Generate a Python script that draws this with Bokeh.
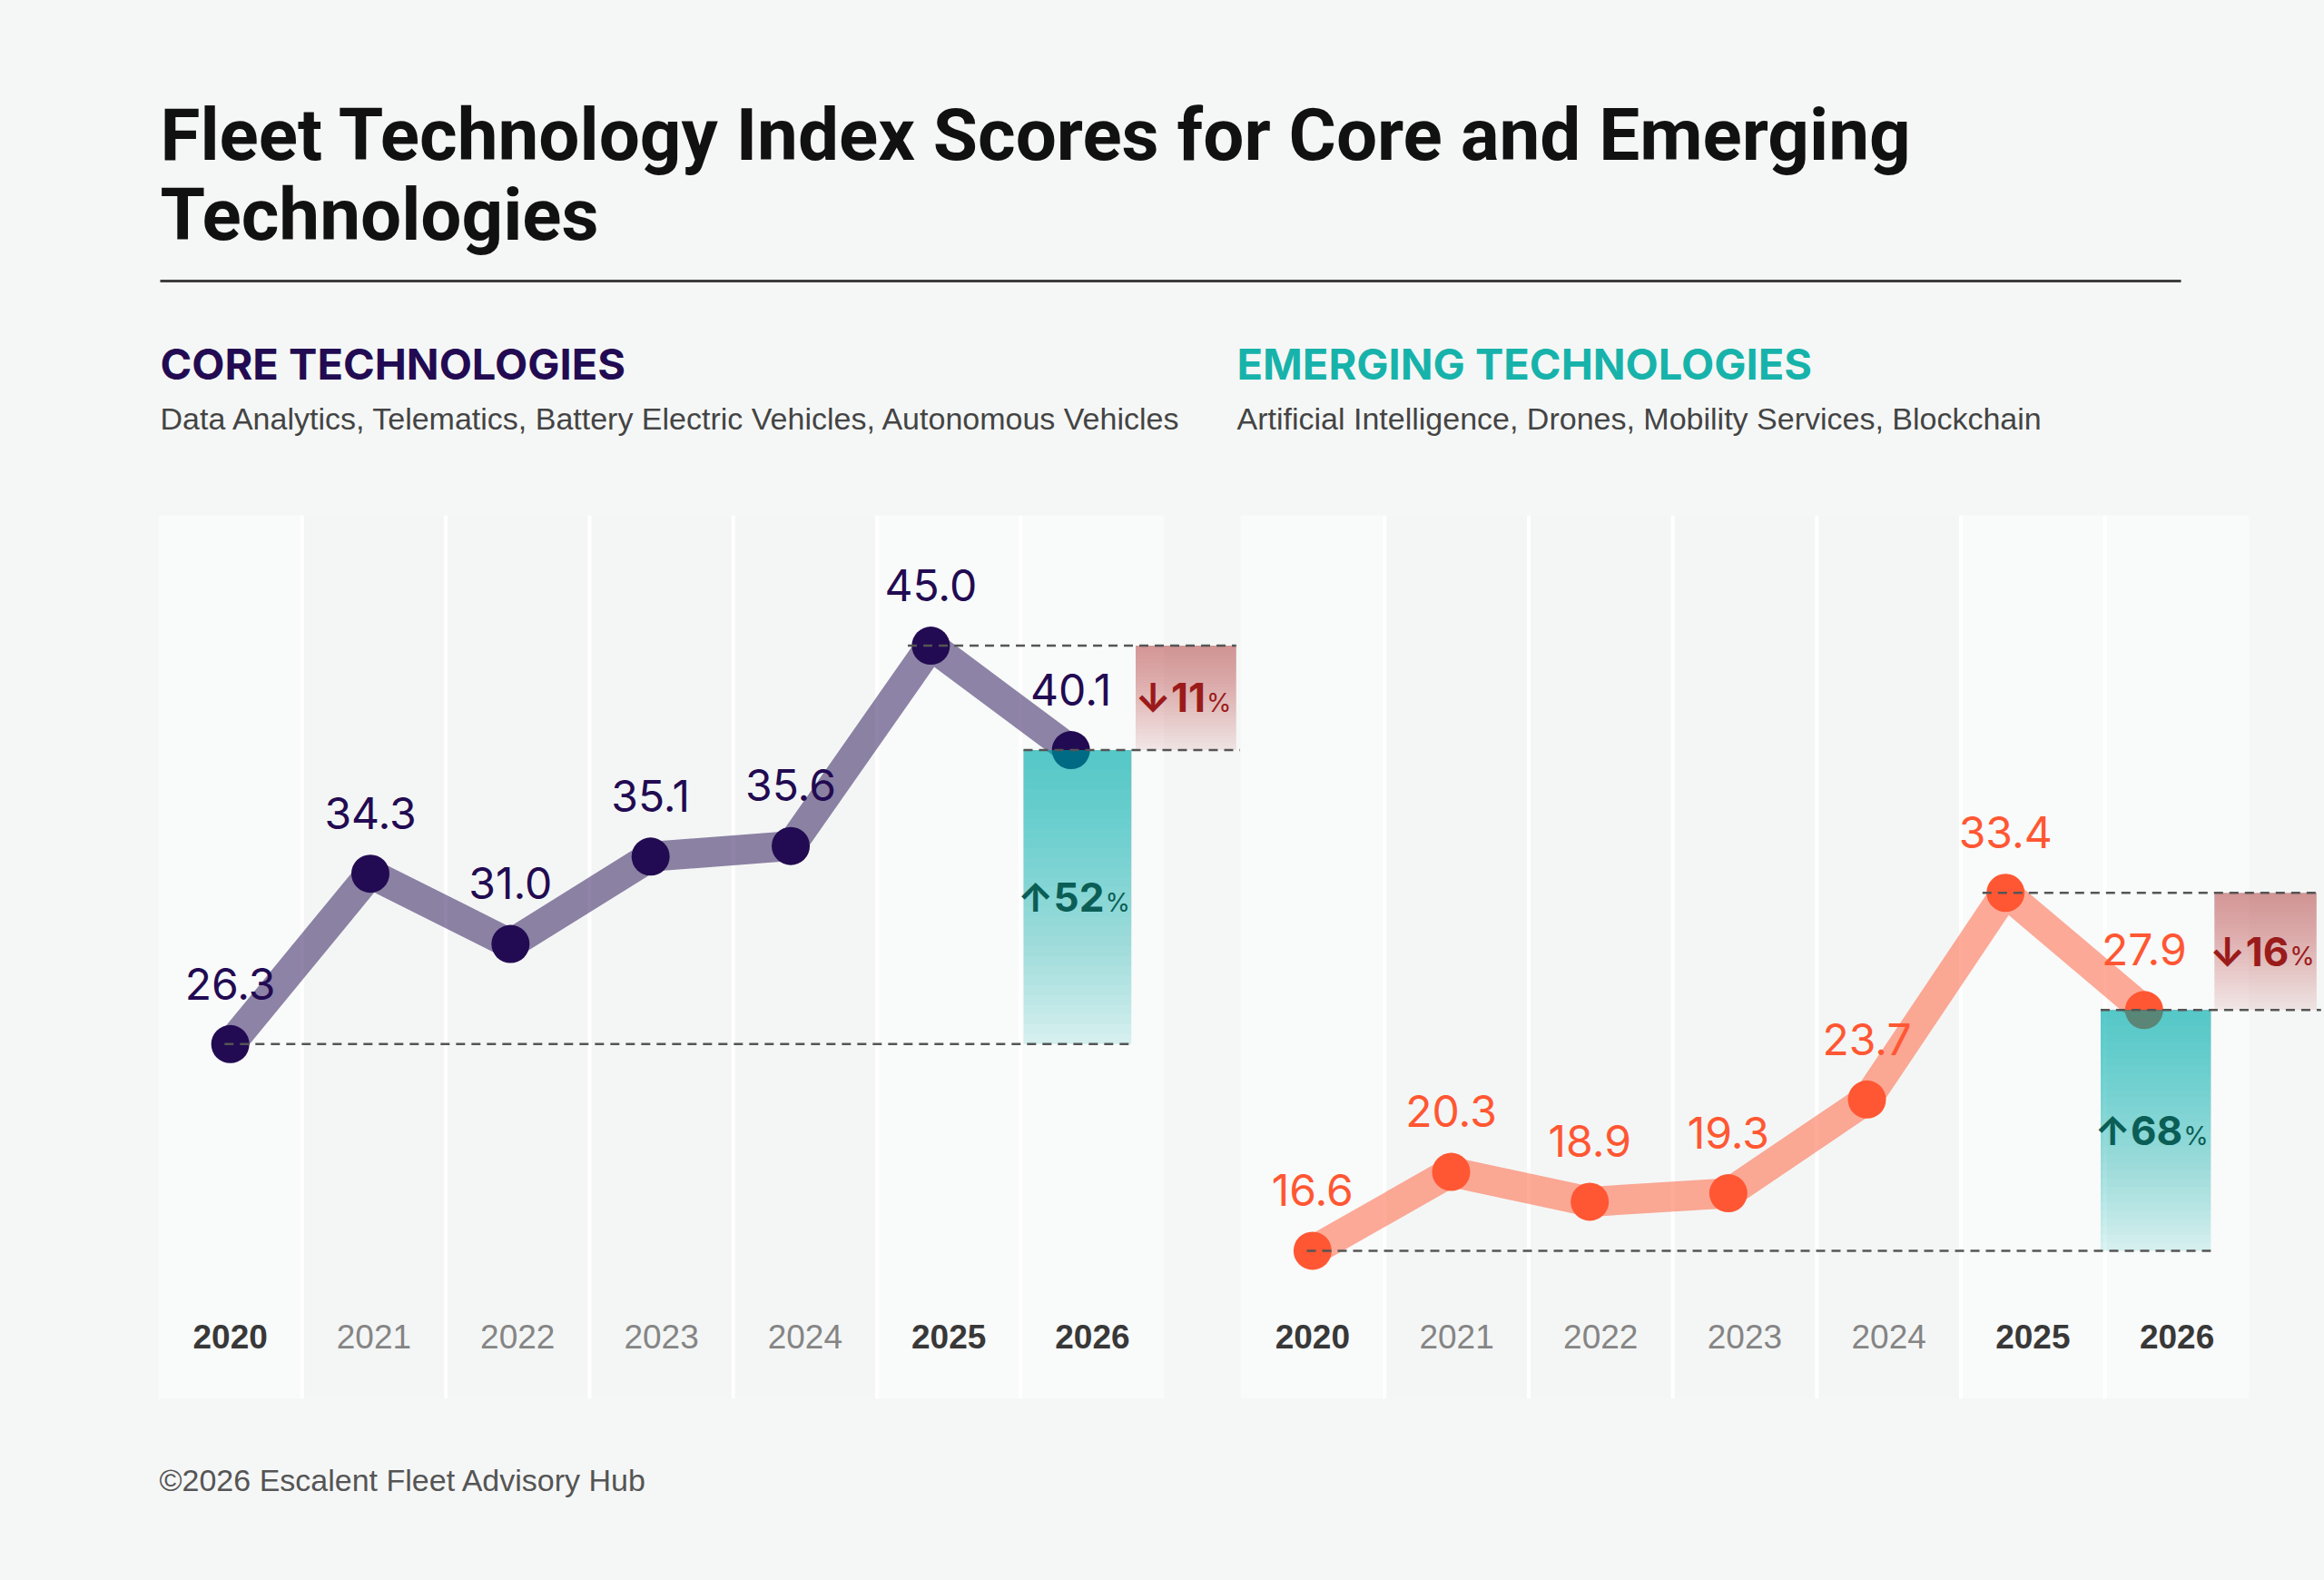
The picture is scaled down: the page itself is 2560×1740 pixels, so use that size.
from bokeh.plotting import figure
from bokeh.models import Range1d, ColumnDataSource
from bokeh.layouts import column, row
from bokeh.embed import file_html
from bokeh.resources import INLINE
from bokeh.core.properties import value

# ---------------- data ----------------
YEARS = ["2020", "2021", "2022", "2023", "2024", "2025", "2026"]
HIGHLIGHT_YEARS = ["2020", "2025", "2026"]
CORE_SCORES = [26.3, 34.3, 31.0, 35.1, 35.6, 45.0, 40.1]
EMERGING_SCORES = [16.6, 20.3, 18.9, 19.3, 23.7, 33.4, 27.9]

TITLE_LINES = ["Fleet Technology Index Scores for Core and Emerging", "Technologies"]
CORE_TITLE = "CORE TECHNOLOGIES"
CORE_SUB = "Data Analytics, Telematics, Battery Electric Vehicles, Autonomous Vehicles"
EMERGING_TITLE = "EMERGING TECHNOLOGIES"
EMERGING_SUB = "Artificial Intelligence, Drones, Mobility Services, Blockchain"
FOOTER = "\u00a92026 Escalent Fleet Advisory Hub"

# ---------------- style ----------------
PAGE_BG = "#f5f7f6"
COL_LIGHT = "#f9fafa"
COL_DARK = "#f4f6f5"
CORE_COLOR = "#220b52"
EMERGING_COLOR = "#ff5733"
TEAL_HEAD = "#17b3ab"
TEAL_BAR = "#00b4aa"
RED_BAR = "#a01e1e"
UP_TEXT = "#0b5e56"
DOWN_TEXT = "#9b1b1b"
DASH_COLOR = "#555555"
GEO_FONT = "Inter"
TITLE_FONT = "Roboto"
SANS_FONT = "Liberation Sans"
BASE_SHIFT = 0.37   # empirical: alphabetic baseline correction (fraction of font size)

W, H = 2560, 1740
HEADER_H, CHART_H = 520, 1040
FOOTER_H = H - HEADER_H - CHART_H
Y_LO, Y_HI = 9.65, 51.12


def blank(width, height, xr, yr, **kw):
    p = figure(width=width, height=height, x_range=xr, y_range=yr,
               toolbar_location=None, output_backend="svg",
               x_axis_location=None, y_axis_location=None,
               background_fill_color=PAGE_BG, border_fill_color=PAGE_BG,
               outline_line_color=None, styles={"background-color": PAGE_BG}, **kw)
    p.grid.visible = False
    return p


def est_width(s, size):
    em = {"\u2191": 0.6, "\u2193": 0.6, "1": 0.44, "%": 0.78}
    return sum(em.get(c, 0.62) for c in s) * size


def make_panel(vals, color, width, border_left, col_w, step, teal_x, red_x):
    frame_w = width - border_left
    p = blank(width, CHART_H, Range1d(0, frame_w / col_w), Range1d(Y_LO, Y_HI),
              min_border_left=border_left, min_border_right=0,
              min_border_top=47, min_border_bottom=20)
    p.extra_y_ranges = {"px": Range1d(0, CHART_H - 67)}
    n = len(YEARS)
    hl = [y in HIGHLIGHT_YEARS for y in YEARS]

    # column backgrounds + white separators
    p.quad(left=list(range(n)), right=[i + 1 for i in range(n)],
           bottom=Y_LO, top=Y_HI,
           fill_color=[COL_LIGHT if h else COL_DARK for h in hl], line_color=None)
    p.segment(x0=list(range(1, n)), x1=list(range(1, n)), y0=Y_LO, y1=Y_HI,
              line_color="white", line_width=4)

    # year labels
    ysize = 37
    ysrc = ColumnDataSource(dict(
        x=[i + 0.5 for i in range(n)], y=[55] * n, t=YEARS,
        c=["#383838" if h else "#858585" for h in hl],
        s=["bold" if h else "normal" for h in hl]))
    p.text(x="x", y="y", text="t", source=ysrc, y_range_name="px", y_offset=-BASE_SHIFT * ysize,
           text_color="c", text_font_style="s", text_align="center",
           text_baseline="alphabetic", text_font=value(SANS_FONT), text_font_size=f"{ysize}px")

    xs = [0.5 + i * step for i in range(n)]
    src = ColumnDataSource(dict(x=xs, y=vals, t=[f"{v:.1f}" for v in vals]))
    p.line(x="x", y="y", source=src, line_width=33, line_color=color, line_alpha=0.5,
           line_join="round", line_cap="round")
    p.scatter(x="x", y="y", source=src, size=42, fill_color=color, line_color=None)
    vsize = 48
    p.text(x="x", y="y", text="t", source=src, text_align="center", text_baseline="alphabetic",
           y_offset=-49 - BASE_SHIFT * vsize, text_color=color, text_font=value(GEO_FONT),
           text_font_size=f"{vsize}px")

    first, peak, last = vals[0], vals[-2], vals[-1]
    # teal growth bar with gradient (stacked translucent quads)
    N = 30
    tops = [last] * (N + 1)
    bots = [first] + [last - (last - first) * k / N for k in range(1, N + 1)]
    alphas = [0.12] + [0.0276] * N
    p.quad(left=teal_x[0], right=teal_x[1], top=tops, bottom=bots,
           fill_color=TEAL_BAR, fill_alpha=alphas, line_color=None)
    # red decline box
    rtops = [peak] * (N + 1)
    rbots = [last] + [peak - (peak - last) * k / N for k in range(1, N + 1)]
    ralphas = [0.08] + [0.0133] * N
    p.quad(left=red_x[0], right=red_x[1], top=rtops, bottom=rbots,
           fill_color=RED_BAR, fill_alpha=ralphas, line_color=None)

    # dashed guide lines
    dash = dict(line_color=DASH_COLOR, line_width=2.5, line_dash="10 7")
    p.segment(x0=[xs[0] - 0.04, xs[-2] - 0.16, teal_x[0]],
              y0=[first, peak, last],
              x1=[teal_x[1], red_x[1], red_x[1] + 0.03],
              y1=[first, peak, last], **dash)

    # percentage labels
    up = round((last - first) / first * 100)
    down = round((peak - last) / peak * 100)
    labels = [("\u2191" + str(up), (teal_x[0] + teal_x[1]) / 2, (first + last) / 2, UP_TEXT),
              ("\u2193" + str(down), (red_x[0] + red_x[1]) / 2, (peak + last) / 2, DOWN_TEXT)]
    msize, psize = 44, 28
    for txt, cx, cy, c in labels:
        wm, wp = est_width(txt, msize), est_width("%", psize)
        split = (wm - wp) / 2
        p.text(x=[cx], y=[cy], text=[txt], x_offset=split, y_offset=16 - BASE_SHIFT * msize,
               text_align="right", text_baseline="alphabetic", text_color=c,
               text_font=value(GEO_FONT), text_font_size=f"{msize}px", text_font_style="bold")
        p.text(x=[cx], y=[cy], text=["%"], x_offset=split + 1, y_offset=16 - BASE_SHIFT * psize,
               text_align="left", text_baseline="alphabetic", text_color=c,
               text_font=value(GEO_FONT), text_font_size=f"{psize}px")
    return p


def htext(p, xs, ys, texts, size, **kw):
    return p.text(x=xs, y=[y - BASE_SHIFT * size for y in ys], text=texts,
                  text_font_size=f"{size}px", text_baseline="alphabetic", **kw)


# ---------------- header ----------------
hdr = blank(W, HEADER_H, Range1d(0, W), Range1d(HEADER_H, 0), min_border=0)
htext(hdr, [176, 176], [178, 266], TITLE_LINES, 80, text_font=value(TITLE_FONT),
      text_font_style="bold", text_color="#111111")
hdr.segment(x0=[176], y0=[309], x1=[2402], y1=[309], line_color="#3d3d3d", line_width=3)
htext(hdr, [176, 1362], [417, 417], [CORE_TITLE, EMERGING_TITLE], 47,
      text_color=[CORE_COLOR, TEAL_HEAD], text_font=value(GEO_FONT), text_font_style="bold")
htext(hdr, [176, 1362], [473, 473], [CORE_SUB, EMERGING_SUB], 34,
      text_color="#444444", text_font=value(SANS_FONT))

# ---------------- charts ----------------
left = make_panel(CORE_SCORES, CORE_COLOR, 1366, 174, 158.3, 0.975, (6.02, 6.77), (6.80, 7.50))
right = make_panel(EMERGING_SCORES, EMERGING_COLOR, W - 1366, 0, 158.7, 0.962, (5.97, 6.735), (6.76, 7.47))

# ---------------- footer ----------------
ftr = blank(W, FOOTER_H, Range1d(0, W), Range1d(FOOTER_H, 0), min_border=0)
htext(ftr, [175], [82], [FOOTER], 34, text_color="#555555", text_font=value(SANS_FONT))

layout = column(hdr, row(left, right, spacing=0, styles={"background-color": PAGE_BG}),
                ftr, spacing=0, styles={"background-color": PAGE_BG})
open("out.html", "w").write(file_html(layout, INLINE))
